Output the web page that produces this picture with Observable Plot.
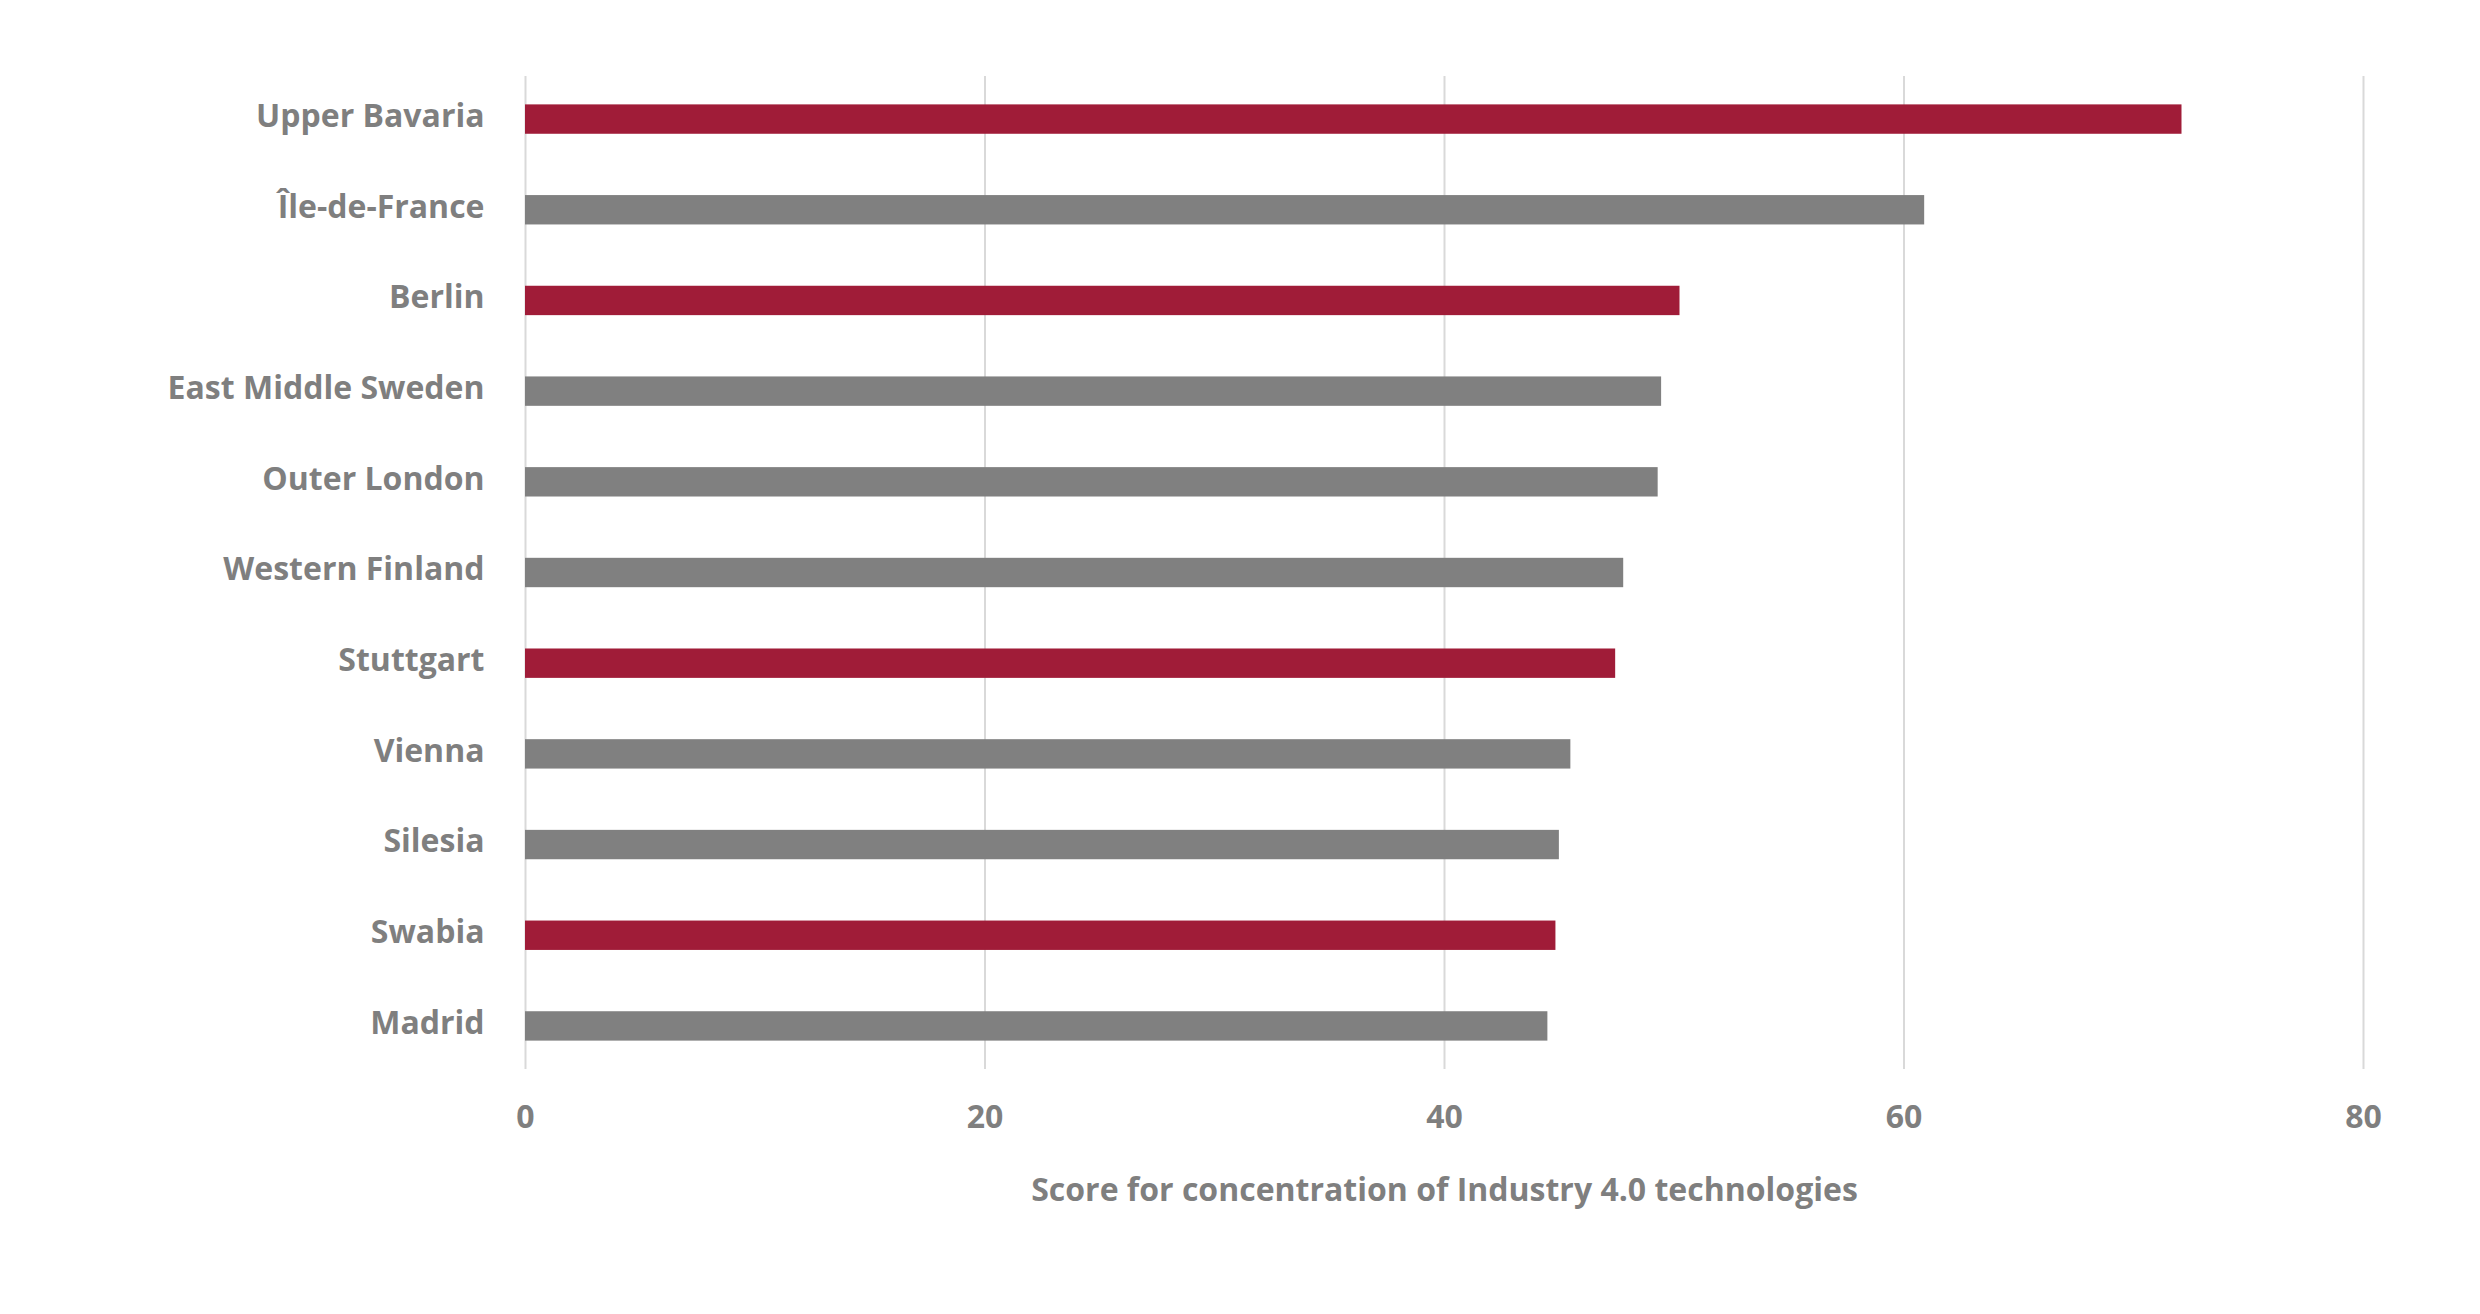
<!DOCTYPE html>
<html>
<head>
<meta charset="utf-8">
<script src="https://cdn.jsdelivr.net/npm/d3@7"></script>
<script src="https://cdn.jsdelivr.net/npm/@observablehq/plot@0.6"></script>
<style>
  html, body { margin: 0; padding: 0; background: #fff; }
</style>
</head>
<body>
<div id="chart"></div>
<script>
// Data
const regions = [
  "Upper Bavaria", "Île-de-France", "Berlin", "East Middle Sweden", "Outer London",
  "Western Finland", "Stuttgart", "Vienna", "Silesia", "Swabia", "Madrid"
];
const scores = [72.1, 60.9, 50.25, 49.45, 49.3, 47.8, 47.45, 45.5, 45.0, 44.85, 44.5];
const groups = [
  "German", "Other", "German", "Other", "Other",
  "Other", "German", "Other", "Other", "German", "Other"
];
const xTicks = [0, 20, 40, 60, 80];
const axisTitle = "Score for concentration of Industry 4.0 technologies";
const groupNames = ["German", "Other"];
const groupColors = ["#a01c38", "#808080"];

const data = regions.map((r, i) => ({ region: r, score: scores[i], group: groups[i] }));

const chart = Plot.plot({
  width: 2480,
  height: 1314,
  marginTop: 76,
  marginBottom: 245,
  marginLeft: 525,
  marginRight: 117,
  style: {
    fontFamily: "'Open Sans', Lato, sans-serif",
    fontSize: "32px",
    fontWeight: 700,
    color: "#7f7f7f",
    background: "#fff"
  },
  x: { domain: [0, 80], ticks: xTicks, label: null },
  y: { domain: regions, paddingInner: 0.676, paddingOuter: 0.313, round: false, label: null },
  color: { domain: groupNames, range: groupColors },
  marks: [
    Plot.gridX(xTicks, { stroke: "#d9d9d9", strokeWidth: 2, strokeOpacity: 1 }),
    Plot.barX(data, { x: "score", y: "region", fill: "group" }),
    Plot.axisY({ tickSize: 0, tickPadding: 41, dy: -3, label: null }),
    Plot.axisX({ ticks: xTicks, tickSize: 0, tickPadding: 36, label: null }),
    Plot.text([axisTitle], {
      frameAnchor: "bottom",
      dy: 109,
      lineAnchor: "top",
      text: d => d,
      fill: "#7f7f7f"
    })
  ]
});
document.getElementById("chart").appendChild(chart);
</script>
</body>
</html>
